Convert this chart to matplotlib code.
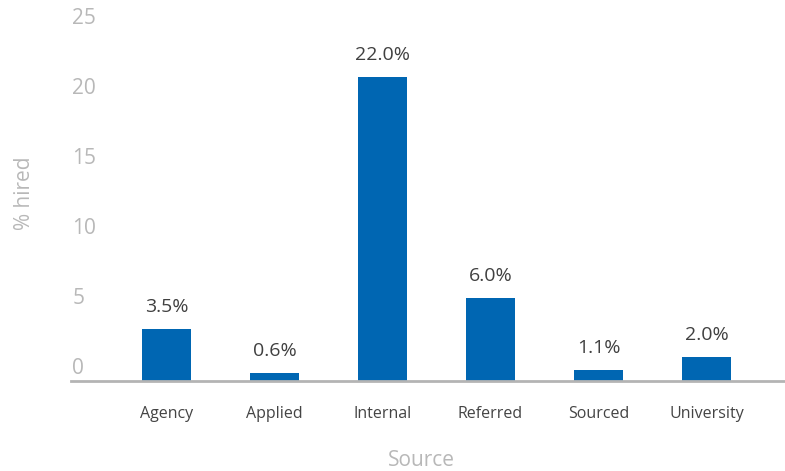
import matplotlib
matplotlib.use("Agg")
import matplotlib.pyplot as plt
import matplotlib.transforms as mtransforms

categories = ["Agency", "Applied", "Internal", "Referred", "Sourced", "University"]
values = [3.7, 0.57, 21.7, 5.93, 0.79, 1.71]
value_labels = ["3.5%", "0.6%", "22.0%", "6.0%", "1.1%", "2.0%"]
yticks = [0, 5, 10, 15, 20, 25]

plt.rcParams['font.family'] = ['Open Sans', 'DejaVu Sans']

W, H = 785, 471
fig = plt.figure(figsize=(W / 100, H / 100), dpi=100)
left, right, bottom, top = 71, 785, 381, 31
ax = fig.add_axes([left / W, 1 - bottom / H, (right - left) / W, (bottom - top) / H])

x = list(range(len(categories)))
ax.bar(x, values, width=0.454, color="#0066B2", zorder=2)
ax.set_xlim(-0.884, 5.727)
ax.set_ylim(0, 25)

for s in ["top", "right", "left"]:
    ax.spines[s].set_visible(False)
ax.spines["bottom"].set_color("#b4b4b4")
ax.spines["bottom"].set_linewidth(2)

ax.set_yticks(yticks)
ax.set_yticklabels([])
ax.tick_params(axis="y", length=0)
ax.set_xticks(x)
ax.set_xticklabels(categories, fontsize=11.5, color="#444444")
ax.tick_params(axis="x", length=0, pad=18)

trans = mtransforms.blended_transform_factory(ax.transAxes, ax.transData)
trans_off = mtransforms.offset_copy(trans, fig=fig, x=0, y=7, units="dots")
for t in yticks:
    ax.text(0.002, t, str(t), transform=trans_off, ha="left", va="baseline",
            fontsize=15, color="#b8b8b8")

lab_trans = mtransforms.offset_copy(ax.transData, fig=fig, x=0, y=13, units="dots")
for xi, v, lab in zip(x, values, value_labels):
    ax.text(xi, v, lab, transform=lab_trans, ha="center", va="bottom",
            fontsize=14, color="#404040")

fig.text(25 / W, 1 - 193 / H, "% hired", rotation=90, ha="center", va="center",
         fontsize=15, color="#b8b8b8")
fig.text(421 / W, 1 - 461 / H, "Source", ha="center", va="center",
         fontsize=15, color="#b8b8b8")

fig.savefig("out.png", dpi=100)
